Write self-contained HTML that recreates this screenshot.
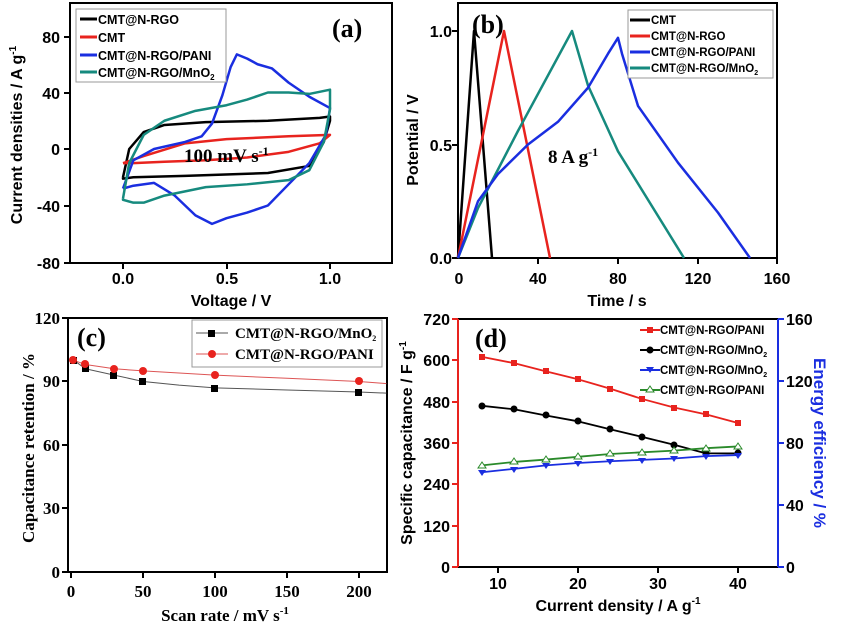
<!DOCTYPE html>
<html><head><meta charset="utf-8"><style>
body{margin:0;background:#fff;}
svg{display:block;font-family:"Liberation Sans",sans-serif;font-weight:bold;}
.s{font-family:"Liberation Serif",serif;font-weight:bold;}
.ln{fill:none;vector-effect:non-scaling-stroke;stroke-linejoin:round;}
</style></head><body>
<svg width="841" height="630" viewBox="0 0 841 630" xmlns="http://www.w3.org/2000/svg">
<!-- Panel a -->
<g>
<rect x="70" y="3" width="322" height="260" fill="none" stroke="#000" stroke-width="2"/>
<g stroke="#000" stroke-width="2">
<line x1="70" y1="37" x2="64" y2="37"/><line x1="70" y1="93" x2="64" y2="93"/><line x1="70" y1="149" x2="64" y2="149"/><line x1="70" y1="206" x2="64" y2="206"/><line x1="70" y1="263" x2="64" y2="263"/>
<line x1="123" y1="263" x2="123" y2="269"/><line x1="227" y1="263" x2="227" y2="269"/><line x1="330" y1="263" x2="330" y2="269"/>
</g>
<g font-size="16" text-anchor="end">
<text x="60" y="43">80</text><text x="60" y="99">40</text><text x="60" y="155">0</text><text x="60" y="212">-40</text><text x="60" y="269">-80</text>
</g>
<g font-size="16" text-anchor="middle">
<text x="123" y="284">0.0</text><text x="227" y="284">0.5</text><text x="330" y="284">1.0</text>
<text x="231" y="306">Voltage / V</text>
</g>
<text transform="translate(22,135) rotate(-90)" font-size="16" text-anchor="middle">Current densities / A g<tspan dy="-6" font-size="10">-1</tspan></text>
<g transform="matrix(207,0,0,-1.4125,123,149)" stroke-width="2.5">
<polyline class="ln" stroke="#000" points="0,-20 0.03,0 0.1,12 0.2,17 0.4,19 0.7,20 0.95,22 1,23 1,20 0.97,5 0.9,-12 0.7,-17 0.3,-19 0.05,-20 0,-21 0,-20"/>
<polyline class="ln" stroke="#e8231e" points="0,-10 0.1,-5 0.3,4 0.5,7 0.8,9 1,10 0.95,4 0.8,-2 0.6,-6 0.4,-8 0.2,-9 0.05,-10 0,-10"/>
<polyline class="ln" stroke="#1a2ee0" points="0,-28 0.05,-8 0.15,0 0.3,5 0.38,9 0.43,18 0.48,38 0.52,58 0.55,67 0.6,64 0.65,60 0.72,57 0.8,47 0.9,37 1,29 0.98,10 0.9,-10 0.8,-25 0.7,-40 0.6,-45 0.5,-49 0.43,-53 0.35,-47 0.25,-33 0.15,-24 0.05,-26 0,-28"/>
<polyline class="ln" stroke="#168a7e" points="0,-35 0.03,-10 0.1,10 0.2,20 0.35,27 0.5,31 0.6,35 0.7,40 0.8,40 0.9,39 1,42 1,28 0.97,5 0.9,-15 0.8,-22 0.6,-25 0.4,-27 0.2,-33 0.1,-38 0.05,-38 0,-36 0,-35"/>
</g>
<text x="184" y="162" class="s" font-size="19">100 mV s<tspan dy="-7" font-size="12">-1</tspan></text>
<text x="332" y="37" class="s" font-size="26">(a)</text>
<rect x="76" y="9" width="150" height="73" fill="#fff" stroke="#999" stroke-width="1"/>
<g stroke-width="3">
<line x1="80" y1="19" x2="97" y2="19" stroke="#000"/><line x1="80" y1="37" x2="97" y2="37" stroke="#e8231e"/><line x1="80" y1="55" x2="97" y2="55" stroke="#1a2ee0"/><line x1="80" y1="72" x2="97" y2="72" stroke="#168a7e"/>
</g>
<g font-size="12.5"><text x="98" y="24">CMT@N-RGO</text><text x="98" y="42">CMT</text><text x="98" y="60">CMT@N-RGO/PANI</text><text x="98" y="77">CMT@N-RGO/MnO<tspan dy="3" font-size="8">2</tspan></text></g>
</g>
<!-- Panel b -->
<g>
<rect x="458" y="3" width="319" height="255" fill="none" stroke="#000" stroke-width="2"/>
<g stroke="#000" stroke-width="2">
<line x1="458" y1="31" x2="452" y2="31"/><line x1="458" y1="145" x2="452" y2="145"/><line x1="458" y1="258" x2="452" y2="258"/>
<line x1="538" y1="258" x2="538" y2="264"/><line x1="618" y1="258" x2="618" y2="264"/><line x1="698" y1="258" x2="698" y2="264"/><line x1="777" y1="258" x2="777" y2="264"/>
</g>
<g font-size="16" text-anchor="end"><text x="452" y="37">1.0</text><text x="452" y="151">0.5</text><text x="452" y="264">0.0</text></g>
<g font-size="16" text-anchor="middle">
<text x="459" y="284">0</text><text x="538" y="284">40</text><text x="618" y="284">80</text><text x="698" y="284">120</text><text x="777" y="284">160</text>
<text x="617" y="306">Time / s</text>
</g>
<text transform="translate(418,140) rotate(-90)" font-size="16" text-anchor="middle">Potential / V</text>
<g transform="matrix(2,0,0,-227,458,258)" stroke-width="2.5">
<polyline class="ln" stroke="#000" points="0,0 8,1 17,0"/>
<polyline class="ln" stroke="#e8231e" points="0,0 23,1 46,0"/>
<polyline class="ln" stroke="#168a7e" points="0,0 10,0.22 30,0.56 57,1 65,0.76 80,0.47 113,0"/>
<polyline class="ln" stroke="#1a2ee0" points="0,0 10,0.25 20,0.37 35,0.5 50,0.6 65,0.75 75,0.9 80,0.97 82,0.9 90,0.67 110,0.42 130,0.2 146,0"/>
</g>
<text x="548" y="163" class="s" font-size="19">8 A g<tspan dy="-7" font-size="12">-1</tspan></text>
<text x="472" y="33" class="s" font-size="26">(b)</text>
<rect x="628" y="10" width="145" height="68" fill="#fff" stroke="#999" stroke-width="1"/>
<g stroke-width="3">
<line x1="630" y1="20" x2="650" y2="20" stroke="#000"/><line x1="630" y1="36" x2="650" y2="36" stroke="#e8231e"/><line x1="630" y1="52" x2="650" y2="52" stroke="#1a2ee0"/><line x1="630" y1="68" x2="650" y2="68" stroke="#168a7e"/>
</g>
<g font-size="11.5"><text x="651" y="24">CMT</text><text x="651" y="40">CMT@N-RGO</text><text x="651" y="56">CMT@N-RGO/PANI</text><text x="651" y="72">CMT@N-RGO/MnO<tspan dy="3" font-size="7">2</tspan></text></g>
</g>
<!-- Panel c -->
<g>
<rect x="68" y="318" width="319" height="254" fill="none" stroke="#000" stroke-width="2"/>
<g stroke="#000" stroke-width="2">
<line x1="68" y1="318" x2="62" y2="318"/><line x1="68" y1="381" x2="62" y2="381"/><line x1="68" y1="445" x2="62" y2="445"/><line x1="68" y1="508" x2="62" y2="508"/><line x1="68" y1="572" x2="62" y2="572"/>
<line x1="71" y1="572" x2="71" y2="578"/><line x1="143" y1="572" x2="143" y2="578"/><line x1="215" y1="572" x2="215" y2="578"/><line x1="287" y1="572" x2="287" y2="578"/><line x1="359" y1="572" x2="359" y2="578"/>
</g>
<g class="s" font-size="17" text-anchor="end"><text x="60" y="324">120</text><text x="60" y="387">90</text><text x="60" y="451">60</text><text x="60" y="514">30</text><text x="60" y="578">0</text></g>
<g class="s" font-size="17" text-anchor="middle">
<text x="71" y="597">0</text><text x="143" y="597">50</text><text x="215" y="597">100</text><text x="287" y="597">150</text><text x="359" y="597">200</text>
<text x="225" y="621">Scan rate / mV s<tspan dy="-7" font-size="11">-1</tspan></text>
</g>
<text transform="translate(34,448) rotate(-90)" class="s" font-size="17" text-anchor="middle">Capacitance retention / %</text>
<g transform="matrix(1.44,0,0,-2.117,71,572)">
<polyline class="ln" stroke="#555" stroke-width="1" points="2,100 10,96 30,93 50,90 75,88.3 100,87 150,86 200,85 219,84.5"/>
<polyline class="ln" stroke="#d55" stroke-width="1" points="2,100 10,98 30,96 50,95 100,93 150,91.5 200,90 219,89"/>
</g>
<g fill="#000"><rect x="70" y="357" width="7" height="7"/><rect x="82" y="365" width="7" height="7"/><rect x="110" y="372" width="7" height="7"/><rect x="139" y="378" width="7" height="7"/><rect x="211" y="385" width="7" height="7"/><rect x="355" y="389" width="7" height="7"/></g>
<g fill="#e8231e"><circle cx="73" cy="360" r="4"/><circle cx="85" cy="364" r="4"/><circle cx="114" cy="369" r="4"/><circle cx="143" cy="371" r="4"/><circle cx="215" cy="375" r="4"/><circle cx="359" cy="381" r="4"/></g>
<text x="77" y="346" class="s" font-size="26">(c)</text>
<rect x="192" y="320" width="190" height="47" fill="#fff" stroke="#999" stroke-width="1"/>
<line x1="196" y1="333" x2="228" y2="333" stroke="#555"/><rect x="208" y="330" width="7" height="7"/>
<line x1="196" y1="354" x2="228" y2="354" stroke="#d55"/><circle cx="212" cy="354" r="4" fill="#e8231e"/>
<g class="s" font-size="15"><text x="235" y="338">CMT@N-RGO/MnO<tspan dy="3" font-size="8">2</tspan></text><text x="235" y="359">CMT@N-RGO/PANI</text></g>
</g>
<!-- Panel d -->
<g>
<line x1="458" y1="319" x2="778" y2="319" stroke="#000" stroke-width="2"/>
<line x1="458" y1="567" x2="778" y2="567" stroke="#000" stroke-width="2"/>
<line x1="458" y1="319" x2="458" y2="567" stroke="#e8231e" stroke-width="2"/>
<line x1="778" y1="319" x2="778" y2="567" stroke="#1a2ee0" stroke-width="2"/>
<g stroke="#e8231e" stroke-width="2"><line x1="458" y1="319" x2="452" y2="319"/><line x1="458" y1="360" x2="452" y2="360"/><line x1="458" y1="402" x2="452" y2="402"/><line x1="458" y1="443" x2="452" y2="443"/><line x1="458" y1="484" x2="452" y2="484"/><line x1="458" y1="526" x2="452" y2="526"/><line x1="458" y1="567" x2="452" y2="567"/></g>
<g stroke="#1a2ee0" stroke-width="2"><line x1="778" y1="319" x2="784" y2="319"/><line x1="778" y1="381" x2="784" y2="381"/><line x1="778" y1="443" x2="784" y2="443"/><line x1="778" y1="505" x2="784" y2="505"/><line x1="778" y1="567" x2="784" y2="567"/></g>
<g stroke="#000" stroke-width="2"><line x1="498" y1="567" x2="498" y2="573"/><line x1="578" y1="567" x2="578" y2="573"/><line x1="658" y1="567" x2="658" y2="573"/><line x1="738" y1="567" x2="738" y2="573"/></g>
<g font-size="16" text-anchor="end"><text x="450" y="325">720</text><text x="450" y="366">600</text><text x="450" y="408">480</text><text x="450" y="449">360</text><text x="450" y="490">240</text><text x="450" y="532">120</text><text x="450" y="573">0</text></g>
<g font-size="16"><text x="786" y="325">160</text><text x="786" y="387">120</text><text x="786" y="449">80</text><text x="786" y="511">40</text><text x="786" y="573">0</text></g>
<g font-size="16" text-anchor="middle"><text x="498" y="589">10</text><text x="578" y="589">20</text><text x="658" y="589">30</text><text x="738" y="589">40</text>
<text x="618" y="611">Current density / A g<tspan dy="-7" font-size="10">-1</tspan></text></g>
<text transform="translate(412,443) rotate(-90)" font-size="16" text-anchor="middle">Specific capacitance / F g<tspan dy="-6" font-size="10">-1</tspan></text>
<text transform="translate(814,443) rotate(90)" font-size="17" fill="#1a2ee0" text-anchor="middle">Energy efficiency / %</text>
<g transform="matrix(8,0,0,-0.3444,418,567)" stroke-width="1.8">
<polyline class="ln" stroke="#e8231e" points="8,610 12,592 16,568 20,545 24,518 28,488 32,463 36,443 40,418"/>
<polyline class="ln" stroke="#000" points="8,468 12,458 16,440 20,423 24,400 28,378 32,355 36,330 40,330"/>
<polyline class="ln" stroke="#1a2ee0" points="8,275 12,285 16,295 20,302 24,307 28,311 32,315 36,322 40,325"/>
<polyline class="ln" stroke="#2a8a2a" points="8,295 12,305 16,312 20,320 24,328 28,333 32,338 36,345 40,350"/>
</g>
<g fill="#e8231e"><rect x="479" y="354" width="6" height="6"/><rect x="511" y="360" width="6" height="6"/><rect x="543" y="368" width="6" height="6"/><rect x="575" y="376" width="6" height="6"/><rect x="607" y="386" width="6" height="6"/><rect x="639" y="396" width="6" height="6"/><rect x="671" y="405" width="6" height="6"/><rect x="703" y="411" width="6" height="6"/><rect x="735" y="420" width="6" height="6"/></g>
<g fill="#000"><circle cx="482" cy="406" r="3.5"/><circle cx="514" cy="409" r="3.5"/><circle cx="546" cy="415" r="3.5"/><circle cx="578" cy="421" r="3.5"/><circle cx="610" cy="429" r="3.5"/><circle cx="642" cy="437" r="3.5"/><circle cx="674" cy="445" r="3.5"/><circle cx="706" cy="453" r="3.5"/><circle cx="738" cy="453" r="3.5"/></g>
<g fill="#1a2ee0"><path d="M478,470h8l-4,6z"/><path d="M510,467h8l-4,6z"/><path d="M542,463h8l-4,6z"/><path d="M574,461h8l-4,6z"/><path d="M606,459h8l-4,6z"/><path d="M638,458h8l-4,6z"/><path d="M670,456h8l-4,6z"/><path d="M702,454h8l-4,6z"/><path d="M734,453h8l-4,6z"/></g>
<g fill="#fff" stroke="#2a8a2a" stroke-width="1"><path d="M482,462l4,6h-8z"/><path d="M514,458l4,6h-8z"/><path d="M546,456l4,6h-8z"/><path d="M578,453l4,6h-8z"/><path d="M610,450l4,6h-8z"/><path d="M642,449l4,6h-8z"/><path d="M674,447l4,6h-8z"/><path d="M706,445l4,6h-8z"/><path d="M738,443l4,6h-8z"/></g>
<text x="475" y="347" class="s" font-size="26">(d)</text>
<g stroke-width="2"><line x1="640" y1="330" x2="660" y2="330" stroke="#e8231e"/><line x1="640" y1="350" x2="660" y2="350" stroke="#000"/><line x1="640" y1="370" x2="660" y2="370" stroke="#1a2ee0"/><line x1="640" y1="390" x2="660" y2="390" stroke="#2a8a2a"/></g>
<rect x="647" y="327" width="6" height="6" fill="#e8231e"/><circle cx="650" cy="350" r="3.5"/><path d="M646,367h8l-4,6z" fill="#1a2ee0"/><path d="M650,386l4,6h-8z" fill="#fff" stroke="#2a8a2a"/>
<g font-size="11.5"><text x="660" y="334">CMT@N-RGO/PANI</text><text x="660" y="354">CMT@N-RGO/MnO<tspan dy="3" font-size="7">2</tspan></text><text x="660" y="374">CMT@N-RGO/MnO<tspan dy="3" font-size="7">2</tspan></text><text x="660" y="394">CMT@N-RGO/PANI</text></g>
</g>
</svg>
</body></html>
